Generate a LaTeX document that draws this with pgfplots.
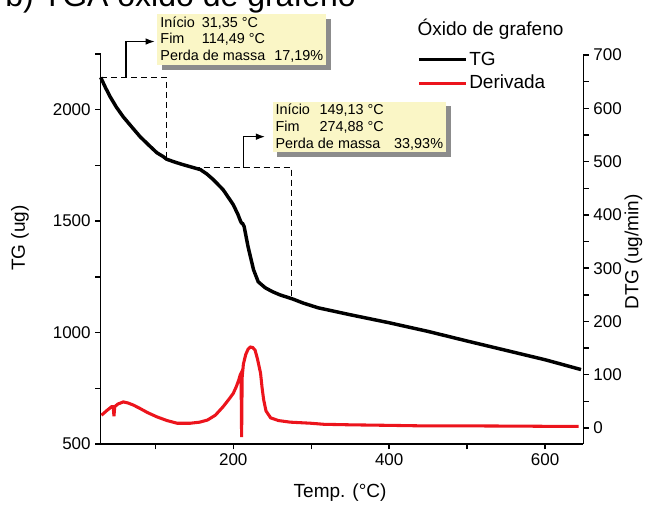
\documentclass[border=0pt]{standalone}
\usepackage{fontspec}
\setmainfont{Liberation Sans}
\usepackage{pgfplots}
\pgfplotsset{compat=1.18}
\usetikzlibrary{arrows.meta,shadows}

\definecolor{dtgred}{RGB}{236,20,28}
\definecolor{boxfill}{RGB}{250,246,198}
\definecolor{shadowgray}{RGB}{140,140,140}

\pgfplotsset{
  common/.style={
    scale only axis, width=362pt, height=292.5pt,
    at={(0pt,0pt)}, anchor=south west,
    xmin=30, xmax=649,
    axis line style={-, line width=1.1pt},
    tick style={line width=1.1pt, black},
    major tick length=4pt, minor tick length=4pt,
    tick align=outside,
    ticklabel style={font=\fontsize{12.75}{14}\selectfont},
    label style={font=\fontsize{14.25}{16}\selectfont},
    /pgf/number format/assume math mode=true,
    /pgf/number format/1000 sep={},
  },
}
\tikzset{
  box/.style={fill=boxfill, drop shadow={shadow xshift=3.5pt, shadow yshift=-3.5pt, fill=shadowgray, opacity=1},
    inner xsep=2.3pt, inner ysep=1.8pt, align=left, anchor=north west,
    font=\fontsize{10.8}{12.6}\selectfont},
}

\begin{document}
\begin{tikzpicture}
% TG, left axis
\begin{axis}[common,
  axis x line*=bottom, axis y line*=left,
  ymin=500, ymax=2250,
  ytick={500,1000,1500,2000}, minor ytick={750,1250,1750,2250},
  xtick={200,400,600}, minor xtick={100,300,500},
  xlabel={Temp. (°C)}, ylabel={TG (ug)},
  xlabel style={at={([yshift=-36.75pt]axis description cs:0.496,0)}, anchor=center},
  ylabel style={at={([xshift=-60.5pt]axis description cs:0,0.528)}, anchor=center},
  clip=false,
]
\addplot[black, line width=2.6pt] coordinates {
  (30,2145) (36,2100) (42,2059) (50,2012) (58.7,1969) (70,1922) (80.5,1879)
  (92,1840) (102,1807) (110,1790) (114.5,1778) (125,1765) (136,1753) (149,1740)
  (158,1731) (166,1712) (174.5,1686) (187,1641) (200,1574) (206,1530) (209,1503)
  (210.5,1492) (212,1489) (214,1475) (219,1385) (226,1282) (232,1228) (241,1201)
  (250,1184) (260,1169) (276,1151) (290,1132) (309,1111) (350,1080) (400,1044)
  (450,1005) (500,962) (550,920) (600,878) (646,834)
};
\draw[black, line width=1.1pt, dash pattern=on 4.5pt off 3pt]
  (axis cs:30.6,2145) -- (axis cs:114.49,2145) -- (axis cs:114.49,1778);
\draw[black, line width=1.1pt, dash pattern=on 4.5pt off 3pt]
  (axis cs:149.13,1740) -- (axis cs:274.88,1740) -- (axis cs:274.88,1150);
\draw[black, line width=1.1pt, -{Latex[length=7pt,width=5pt]}]
  (axis cs:62.5,2145) -- (axis cs:62.5,2306) -- (axis cs:99.5,2306);
\draw[black, line width=1.1pt, -{Latex[length=7pt,width=5pt]}]
  (axis cs:213,1740) -- (axis cs:213,1879) -- (axis cs:241,1879);
\node[box] at (axis cs:102.4,2430)
  {\makebox[31pt][l]{Início}31,35 °C\\\makebox[31pt][l]{Fim}114,49 °C\\\makebox[85.5pt][l]{Perda de massa}17,19\%};
\node[box] at (axis cs:250,2038)
  {\makebox[33pt][l]{Início}149,13 °C\\\makebox[33pt][l]{Fim}274,88 °C\\\makebox[89pt][l]{Perda de massa}33,93\%};
\end{axis}

% DTG, right axis
\begin{axis}[common,
  axis x line=none, axis y line*=right,
  ymin=-30, ymax=702,
  ytick={0,100,...,700}, minor ytick={50,150,...,650},
  ylabel={DTG (ug/min)},
  ylabel style={at={([xshift=37.5pt]axis description cs:1,0.492)}, anchor=center},
  legend style={at={(axis description cs:0.655,1.011)}, anchor=north west,
    draw=none, fill=none, inner sep=0pt, row sep=3pt,
    nodes={inner sep=1.5pt}, font=\fontsize{14.25}{16}\selectfont},
  legend cell align=left,
  legend image code/.code={\draw[#1] (0pt,0pt) -- (35pt,0pt);},
]
\addlegendimage{black, line width=2.6pt}
\addlegendentry{TG}
\addplot[dtgred, line width=2.3pt] coordinates {
  (31,24) (38,33) (44,40) (46,40) (47,22) (48,40) (52,45) (59,49) (65,47)
  (72,43) (80,37) (90,29) (102,21) (115,14) (128,9) (145,9) (157,11) (167,15)
  (177,24) (187,40) (195,55) (200,65) (204,78) (207,90) (209,100) (210,103)
  (210.7,-17) (211.4,95) (213,120) (216,138) (219,148) (222,152) (225,151)
  (228,146) (231,130) (235,103) (237,75) (239,53) (242,32) (248,19) (258,14)
  (273,11) (299,9) (316,7) (350,6) (400,5) (444,4) (500,4) (573,3.5) (620,3) (643,3)
};
\addlegendentry{Derivada}
\end{axis}

\node[anchor=base west, font=\fontsize{14.25}{16}\selectfont] at (234.2pt,306pt) {Óxido de grafeno};
\node[anchor=base west, font=\fontsize{24}{28}\selectfont] at (-75pt,327.75pt) {b) TGA óxido de grafeno};

\pgfresetboundingbox
\useasboundingbox (-75.525pt,-46.5pt) rectangle (410.475pt,333pt);
\end{tikzpicture}
\end{document}
